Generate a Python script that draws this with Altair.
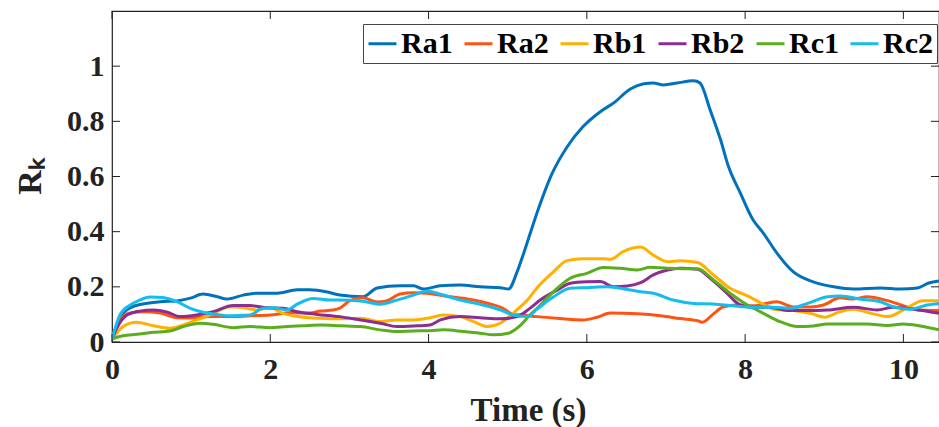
import altair as alt
import pandas as pd

# ---------------- data ----------------
series_names = ["Ra1", "Ra2", "Rb1", "Rb2", "Rc1", "Rc2"]
series_colors = ["#0072BD", "#FF5312", "#FFB000", "#8C2D92", "#5AAE1E", "#14BDEF"]

ra1_t = [0, 0.1, 0.23, 0.39, 0.61, 0.82, 0.99, 1.15, 1.33, 1.45, 1.66, 1.83, 2.09, 2.34, 2.5, 2.72,
         2.88, 3.17, 3.35, 3.64, 3.81, 3.93, 4.15, 4.4, 4.65, 4.91, 5.01, 5.12, 5.2, 5.37, 5.56, 5.75,
         5.95, 6.17, 6.34, 6.55, 6.72, 6.84, 6.97, 7.14, 7.35, 7.43, 7.56, 7.69, 7.79, 7.94, 8.1, 8.23,
         8.4, 8.61, 8.86, 9.12, 9.37, 9.71, 9.96, 10.18, 10.32, 10.45]
ra1_v = [0.01, 0.087, 0.124, 0.138, 0.146, 0.149, 0.159, 0.174, 0.164, 0.156, 0.17, 0.177, 0.177, 0.189, 0.189, 0.181,
         0.17, 0.164, 0.196, 0.204, 0.204, 0.192, 0.204, 0.207, 0.2, 0.197, 0.192, 0.255, 0.32, 0.468, 0.61, 0.707,
         0.78, 0.835, 0.867, 0.917, 0.936, 0.939, 0.932, 0.939, 0.947, 0.939, 0.84, 0.733, 0.636, 0.54, 0.443, 0.395,
         0.323, 0.254, 0.218, 0.2, 0.192, 0.196, 0.192, 0.196, 0.214, 0.221]

ra2_t = [0, 0.1, 0.23, 0.39, 0.61, 0.82, 0.99, 1.24, 1.49, 1.74, 2.0, 2.25, 2.5, 2.63, 2.79, 2.88, 3.0, 3.17,
         3.35, 3.47, 3.64, 3.81, 3.98, 4.19, 4.4, 4.57, 4.78, 4.93, 5.07, 5.16, 5.37, 5.66, 5.95, 6.13, 6.3,
         6.64, 6.93, 7.18, 7.4, 7.46, 7.6, 7.72, 7.9, 8.1, 8.4, 8.61, 8.82, 8.99, 9.2, 9.37, 9.54, 9.8, 10.05,
         10.21, 10.45]
ra2_v = [0.01, 0.08, 0.105, 0.11, 0.105, 0.088, 0.087, 0.092, 0.092, 0.095, 0.098, 0.106, 0.105, 0.112, 0.116,
         0.123, 0.149, 0.16, 0.145, 0.149, 0.174, 0.179, 0.177, 0.168, 0.16, 0.152, 0.138, 0.124, 0.1, 0.098,
         0.092, 0.085, 0.08, 0.09, 0.105, 0.102, 0.095, 0.085, 0.077, 0.072, 0.102, 0.127, 0.134, 0.131, 0.146,
         0.127, 0.127, 0.134, 0.16, 0.156, 0.164, 0.15, 0.127, 0.116, 0.114]

rb1_t = [0, 0.04, 0.14, 0.31, 0.52, 0.73, 0.9, 1.07, 1.24, 1.49, 1.66, 1.83, 2.0, 2.16, 2.42, 2.63, 2.88, 3.14,
         3.39, 3.6, 3.81, 4.02, 4.19, 4.4, 4.57, 4.74, 4.91, 5.07, 5.16, 5.25, 5.37, 5.58, 5.75, 5.95, 6.21, 6.3,
         6.46, 6.68, 6.84, 7.02, 7.18, 7.4, 7.6, 7.81, 8.03, 8.19, 8.36, 8.61, 8.82, 9.01, 9.2, 9.37, 9.62, 9.8,
         10.0, 10.25, 10.45]
rb1_v = [0.01, 0.025, 0.056, 0.072, 0.059, 0.05, 0.062, 0.08, 0.098, 0.128, 0.124, 0.116, 0.124, 0.104, 0.09,
         0.086, 0.084, 0.086, 0.074, 0.08, 0.08, 0.088, 0.098, 0.092, 0.074, 0.056, 0.069, 0.104, 0.128, 0.152,
         0.196, 0.255, 0.295, 0.302, 0.302, 0.3, 0.328, 0.344, 0.315, 0.291, 0.295, 0.288, 0.243, 0.195, 0.167,
         0.143, 0.119, 0.114, 0.104, 0.09, 0.11, 0.119, 0.102, 0.092, 0.116, 0.15, 0.15]

rb2_t = [0, 0.06, 0.19, 0.35, 0.52, 0.7, 0.86, 1.07, 1.28, 1.53, 1.74, 1.96, 2.16, 2.34, 2.59, 2.88, 3.14, 3.39,
         3.6, 3.81, 4.02, 4.15, 4.4, 4.65, 4.91, 5.12, 5.28, 5.41, 5.63, 5.79, 6.0, 6.17, 6.34, 6.51, 6.68, 6.84,
         7.02, 7.18, 7.4, 7.56, 7.77, 7.94, 8.1, 8.32, 8.53, 8.79, 9.04, 9.37, 9.67, 9.87, 10.13, 10.45]
rb2_v = [0.01, 0.05, 0.098, 0.112, 0.116, 0.108, 0.092, 0.098, 0.11, 0.132, 0.132, 0.124, 0.122, 0.11, 0.1,
         0.092, 0.08, 0.068, 0.056, 0.058, 0.062, 0.08, 0.092, 0.088, 0.084, 0.092, 0.122, 0.152, 0.189, 0.213,
         0.218, 0.219, 0.2, 0.203, 0.215, 0.243, 0.261, 0.267, 0.264, 0.231, 0.177, 0.134, 0.126, 0.126, 0.114,
         0.114, 0.116, 0.126, 0.116, 0.126, 0.119, 0.104]

rc1_t = [0, 0.04, 0.14, 0.31, 0.52, 0.73, 0.9, 1.11, 1.28, 1.53, 1.74, 2.0, 2.21, 2.42, 2.63, 2.88, 3.14, 3.39,
         3.6, 3.81, 4.02, 4.19, 4.44, 4.65, 4.82, 5.01, 5.16, 5.28, 5.37, 5.58, 5.79, 6.0, 6.21, 6.42, 6.64, 6.8,
         7.02, 7.22, 7.4, 7.6, 7.81, 8.03, 8.23, 8.44, 8.66, 8.86, 9.04, 9.29, 9.54, 9.8, 10.0, 10.21, 10.45]
rc1_v = [0.01, 0.015, 0.023, 0.028, 0.035, 0.04, 0.056, 0.068, 0.064, 0.052, 0.056, 0.052, 0.056, 0.059, 0.062,
         0.059, 0.056, 0.044, 0.038, 0.04, 0.041, 0.044, 0.038, 0.032, 0.026, 0.032, 0.06, 0.098, 0.122, 0.183,
         0.231, 0.249, 0.27, 0.267, 0.261, 0.271, 0.267, 0.266, 0.266, 0.225, 0.177, 0.134, 0.104, 0.074, 0.056,
         0.058, 0.065, 0.065, 0.065, 0.06, 0.065, 0.058, 0.044]

rc2_t = [0, 0.1, 0.23, 0.35, 0.48, 0.64, 0.82, 0.99, 1.15, 1.33, 1.49, 1.74, 1.91, 2.04, 2.21, 2.34, 2.54, 2.76,
         2.88, 3.14, 3.39, 3.6, 3.81, 3.98, 4.15, 4.4, 4.65, 4.91, 5.07, 5.25, 5.37, 5.58, 5.79, 6.0, 6.26, 6.42,
         6.68, 6.84, 7.09, 7.35, 7.6, 7.85, 8.1, 8.36, 8.57, 8.79, 9.04, 9.2, 9.46, 9.71, 9.87, 10.09, 10.3, 10.45]
rc2_v = [0.01, 0.098, 0.134, 0.152, 0.163, 0.161, 0.146, 0.122, 0.108, 0.1, 0.095, 0.098, 0.122, 0.124, 0.116,
         0.137, 0.158, 0.152, 0.152, 0.149, 0.137, 0.152, 0.17, 0.185, 0.173, 0.152, 0.137, 0.116, 0.098, 0.092,
         0.119, 0.164, 0.195, 0.197, 0.2, 0.195, 0.182, 0.177, 0.152, 0.14, 0.138, 0.131, 0.126, 0.126, 0.122,
         0.14, 0.164, 0.167, 0.155, 0.146, 0.128, 0.119, 0.134, 0.14]

x_ticks = [0, 2, 4, 6, 8, 10]
y_ticks = [0, 0.2, 0.4, 0.6, 0.8, 1]

# ---------------- build table ----------------
rows = []
for order, (name, ts, vs) in enumerate(zip(series_names,
                                            [ra1_t, ra2_t, rb1_t, rb2_t, rc1_t, rc2_t],
                                            [ra1_v, ra2_v, rb1_v, rb2_v, rc1_v, rc2_v])):
    assert len(ts) == len(vs), name
    for t, v in zip(ts, vs):
        rows.append({"t": t, "v": v, "series": name, "k": order})
df = pd.DataFrame(rows)
xt_df = pd.DataFrame({"t": x_ticks})
yt_df = pd.DataFrame({"v": y_ticks})

W, H = 827, 331
FONT = "Liberation Serif"
TXT = "#222222"

x_enc = alt.X("t:Q",
              scale=alt.Scale(domain=[0, 10.45], nice=False, zero=False),
              axis=alt.Axis(values=x_ticks, format="~g", title="Time (s)", ticks=False, domain=False,
                            grid=False, labelPadding=12, labelFlush=False,
                            titleX=416, titleY=78, titleBaseline="alphabetic"))
y_enc = alt.Y("v:Q",
              scale=alt.Scale(domain=[0, 1.2], nice=False, zero=True),
              axis=alt.Axis(values=y_ticks, format="~g", title="Rₖ", ticks=False, domain=False, grid=False,
                            labelPadding=8, labelFlush=False,
                            titleAngle=270, titleBaseline="alphabetic", titleAlign="center",
                            titleX=-72, titleY=165, titleFontSize=34))

lines = alt.Chart(df).mark_line(strokeWidth=3, interpolate="monotone", clip=True).encode(
    x=x_enc,
    y=y_enc,
    color=alt.Color("series:N",
                    scale=alt.Scale(domain=series_names, range=series_colors),
                    legend=alt.Legend(orient="none", legendX=251, legendY=13, direction="horizontal",
                                      title=None, symbolType="stroke", symbolSize=784,
                                      symbolStrokeWidth=3, strokeColor="#444444", fillColor="white",
                                      padding=4, columnPadding=5, labelOffset=3, labelLimit=200)),
    order=alt.Order("k:Q"),
)

tick_style = dict(color=TXT, strokeWidth=1)
bottom_ticks = alt.Chart(xt_df).mark_rule(**tick_style).encode(
    x="t:Q", y=alt.value(H), y2=alt.value(H - 8))
top_ticks = alt.Chart(xt_df).mark_rule(**tick_style).encode(
    x="t:Q", y=alt.value(0), y2=alt.value(8))
left_ticks = alt.Chart(yt_df).mark_rule(**tick_style).encode(
    y="v:Q", x=alt.value(0), x2=alt.value(8))
right_ticks = alt.Chart(yt_df).mark_rule(**tick_style).encode(
    y="v:Q", x=alt.value(W - 8), x2=alt.value(W))

chart = alt.layer(lines, bottom_ticks, top_ticks, left_ticks, right_ticks).properties(
    width=W, height=H,
    autosize=alt.AutoSizeParams(type="none"),
    padding={"left": 112, "top": 11, "right": 0, "bottom": 85},
    background="white",
).configure(
    font=FONT
).configure_view(
    stroke=TXT, strokeWidth=1.2
).configure_axis(
    labelFont=FONT, labelFontSize=30, labelFontWeight="bold", labelColor=TXT,
    titleFont=FONT, titleFontSize=33, titleFontWeight="bold", titleColor=TXT,
).configure_legend(
    labelFont=FONT, labelFontSize=30, labelFontWeight="bold", labelColor="#000000",
)

chart.save("out.html", embed_options={"renderer": "svg", "actions": False})
